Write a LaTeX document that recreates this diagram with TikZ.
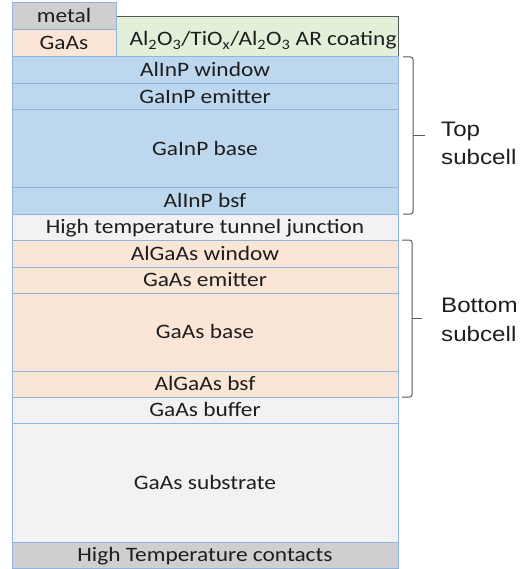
\documentclass[tikz,border=0pt]{standalone}
\usepackage{fontspec}
\setmainfont{Carlito}[FakeStretch=1.14]
\newfontfamily\bracefont{Liberation Sans}[FakeStretch=1.15]
\usetikzlibrary{calc}

\definecolor{topblue}{HTML}{BDD7EE}
\definecolor{peach}{HTML}{FBE5D6}
\definecolor{palegrey}{HTML}{F2F2F2}
\definecolor{midgrey}{HTML}{D0CECE}
\definecolor{palegreen}{HTML}{E2F0D9}
\definecolor{edgeblue}{HTML}{8FB4DD}
\definecolor{darkline}{HTML}{595959}
\definecolor{inkgrey}{HTML}{1E1E1E}

\tikzset{
  slab/.style={draw=edgeblue, line width=1bp, inner sep=0pt, outer sep=0pt,
    anchor=north west, text=inkgrey, text height=13bp, text depth=0bp,
    font=\fontsize{20.5bp}{24bp}\selectfont},
  layer/.style={slab, minimum width=386bp},
  brace/.style={draw=darkline, line width=1bp, rounded corners=2.5bp},
  bracelabel/.style={anchor=west, align=left, inner sep=0pt, text=inkgrey,
    font=\bracefont\fontsize{21bp}{28.5bp}\selectfont},
}

\begin{document}
\begin{tikzpicture}[x=1bp, y=-1bp]
\useasboundingbox (0,0) rectangle (529,569);

% anti-reflection coating next to the front contact
\node[slab, draw=darkline, fill=palegreen, minimum width=282bp, minimum height=40bp,
      text height=18bp] (arc) at (116,17)
  {\hspace*{12bp}Al\textsubscript{2}O\textsubscript{3}/TiO\textsubscript{x}/Al\textsubscript{2}O\textsubscript{3} AR coating};

% front contact stack
\node[slab, fill=midgrey, minimum width=104bp, minimum height=27bp] (metal) at (12,3) {metal};
\node[slab, fill=peach, minimum width=104bp, minimum height=27bp] (cap) at (12,30) {GaAs};

% top GaInP subcell
\node[layer, fill=topblue, minimum height=27bp] (twin) at (12,57) {AlInP window};
\node[layer, fill=topblue, minimum height=26bp] (temit) at (12,84) {GaInP emitter};
\node[layer, fill=topblue, minimum height=77bp] (tbase) at (12,110) {GaInP base};
\node[layer, fill=topblue, minimum height=27bp] (tbsf) at (12,187) {AlInP bsf};

% tunnel junction
\node[layer, fill=palegrey, minimum height=26bp] (tj) at (12,214) {High temperature tunnel junction};

% bottom GaAs subcell
\node[layer, fill=peach, minimum height=27bp] (bwin) at (12,240) {AlGaAs window};
\node[layer, fill=peach, minimum height=26bp] (bemit) at (12,267) {GaAs emitter};
\node[layer, fill=peach, minimum height=78bp] (bbase) at (12,293) {GaAs base};
\node[layer, fill=peach, minimum height=26bp] (bbsf) at (12,371) {AlGaAs bsf};

% buffer, substrate and back contact
\node[layer, fill=palegrey, minimum height=26bp] (buf) at (12,397) {GaAs buffer};
\node[layer, fill=palegrey, minimum height=119bp] (sub) at (12,423) {GaAs substrate};
\node[layer, fill=midgrey, minimum height=26bp] (back) at (12,542) {High Temperature contacts};

% braces grouping the subcells
\draw[brace] ($(twin.north east)+(5,0)$) -- ($(twin.north east)+(15,0)$)
  -- ($(tbsf.south east)+(15,0)$) -- ($(tbsf.south east)+(5,0)$);
\coordinate (tmid) at ($(twin.north east)!0.5!(tbsf.south east)$);
\draw[brace] ($(tmid)+(15,0)$) -- ($(tmid)+(27,0)$);

\draw[brace] ($(bwin.north east)+(4,0)$) -- ($(bwin.north east)+(14,0)$)
  -- ($(bbsf.south east)+(14,0)$) -- ($(bbsf.south east)+(4,0)$);
\coordinate (bmid) at ($(bwin.north east)!0.5!(bbsf.south east)$);
\draw[brace] ($(bmid)+(14,0)$) -- ($(bmid)+(24,0)$);

\node[bracelabel] (toplabel) at (441,143.5) {Top\\subcell};
\node[bracelabel] (botlabel) at (441,320) {Bottom\\subcell};
\end{tikzpicture}
\end{document}
